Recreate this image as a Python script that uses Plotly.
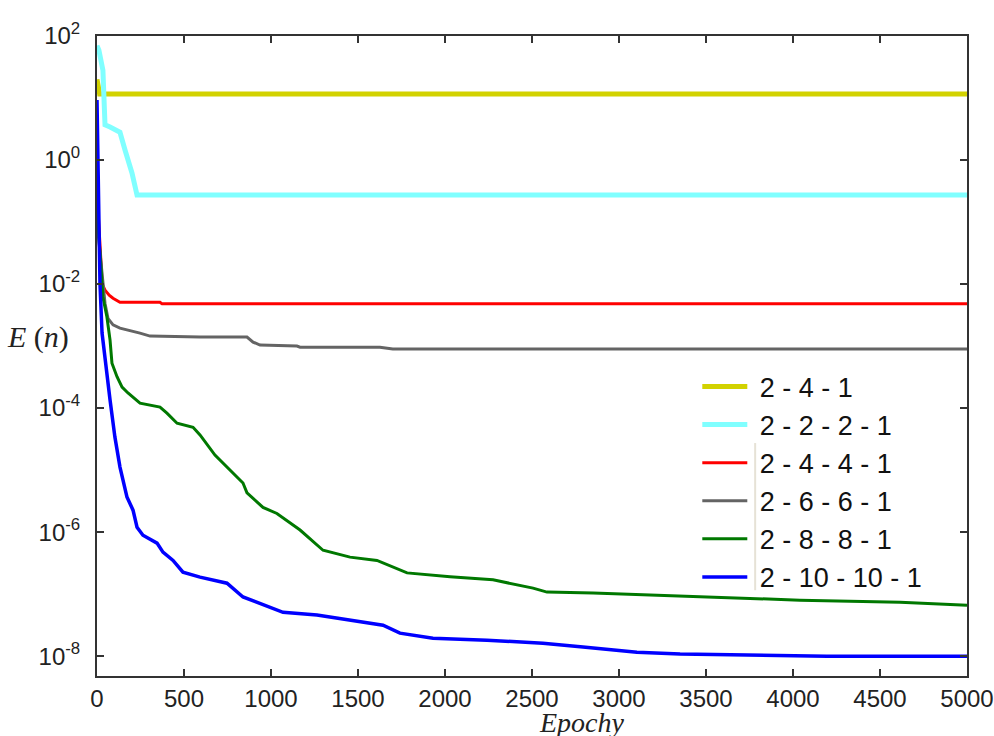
import plotly.graph_objects as go

# ---- data ----
series_names = ["2 - 4 - 1", "2 - 2 - 2 - 1", "2 - 4 - 4 - 1", "2 - 6 - 6 - 1", "2 - 8 - 8 - 1", "2 - 10 - 10 - 1"]

ep_241 = [0, 15, 5000]
err_241 = [20, 11.6, 11.6]

ep_2221 = [0, 11, 34, 46, 75, 132, 161, 201, 230, 5000]
err_2221 = [70, 59, 28, 3.7, 3.4, 2.8, 1.45, 0.62, 0.272, 0.272]

ep_2441 = [0, 30, 46, 70, 92, 132, 362, 374, 5000]
err_2441 = [0.3, 0.01, 0.008, 0.0066, 0.0059, 0.0051, 0.0051, 0.0048, 0.0048]

ep_2661 = [0, 40, 46, 63, 92, 132, 190, 247, 305, 592, 862, 897, 937, 1149, 1167, 1626, 1700, 5000]
err_2661 = [0.1, 0.0063, 0.0049, 0.0028, 0.0022, 0.00195, 0.0018, 0.00162, 0.00145, 0.0014, 0.0014,
            0.00116, 0.00104, 0.001, 0.00096, 0.00096, 0.0009, 0.0009]

ep_2881 = [0, 20, 34, 57, 75, 86, 115, 144, 178, 247, 362, 402, 460, 552, 592, 678, 782, 839, 862, 954,
           1034, 1167, 1299, 1356, 1454, 1609, 1782, 2029, 2276, 2506, 2586, 2851, 3465, 4040, 4615, 5000]
err_2881 = [0.17, 0.02, 6.2e-3, 2.94e-3, 1.25e-3, 5.3e-4, 3.2e-4, 2.18e-4, 1.75e-4, 1.2e-4, 1.04e-4, 8.3e-5,
            5.7e-5, 4.9e-5, 3.7e-5, 1.75e-5, 9.0e-6, 6.2e-6, 4.3e-6, 2.5e-6, 2.0e-6, 1.08e-6, 5.1e-7, 4.6e-7,
            3.95e-7, 3.5e-7, 2.2e-7, 1.9e-7, 1.7e-7, 1.25e-7, 1.08e-7, 1.04e-7, 9.0e-8, 8.0e-8, 7.4e-8, 6.65e-8]

ep_210101 = [0, 17, 29, 46, 75, 103, 132, 172, 207, 230, 264, 345, 379, 437, 494, 592, 747, 839, 1069, 1264,
             1454, 1644, 1741, 1931, 2241, 2563, 2793, 3103, 3351, 4195, 5000]
err_210101 = [9.3, 1.04e-2, 1.62e-3, 5.9e-4, 1.35e-4, 3.4e-5, 1.12e-5, 3.7e-6, 2.26e-6, 1.2e-6, 8.9e-7, 6.65e-7,
              4.75e-7, 3.5e-7, 2.26e-7, 1.88e-7, 1.5e-7, 9.0e-8, 5.1e-8, 4.6e-8, 3.8e-8, 3.16e-8, 2.35e-8,
              1.95e-8, 1.81e-8, 1.62e-8, 1.4e-8, 1.16e-8, 1.08e-8, 1.0e-8, 1.0e-8]

x_ticks = [0, 500, 1000, 1500, 2000, 2500, 3000, 3500, 4000, 4500, 5000]
y_tick_vals = [1e-8, 1e-6, 1e-4, 1e-2, 1e0, 1e2]
y_tick_text = ["10<sup>-8</sup>", "10<sup>-6</sup>", "10<sup>-4</sup>", "10<sup>-2</sup>", "10<sup>0</sup>", "10<sup>2</sup>"]

# ---- styles ----
styles = [
    ("#D2D200", 5),
    ("#80FFFF", 5),
    ("#FF0000", 3),
    ("#646464", 3),
    ("#007800", 3),
    ("#0000FF", 3.5),
]
data = [(ep_241, err_241), (ep_2221, err_2221), (ep_2441, err_2441),
        (ep_2661, err_2661), (ep_2881, err_2881), (ep_210101, err_210101)]

fig = go.Figure()
for name, (xs, ys), (col, w) in zip(series_names, data, styles):
    fig.add_trace(go.Scatter(x=xs, y=ys, mode="lines", name="\u00a0" + name,
                             line=dict(color=col, width=w)))

tick_font = dict(family="Liberation Sans Narrow, Liberation Sans, Arial", size=24, color="#222")

fig.update_layout(
    width=994, height=736,
    margin=dict(l=97, r=27, t=36, b=60, autoexpand=False),
    paper_bgcolor="white", plot_bgcolor="white",
    showlegend=True,
    legend=dict(x=0.69, y=0.49, xanchor="left", yanchor="top",
                bgcolor="rgba(0,0,0,0)", borderwidth=0, itemwidth=45,
                font=dict(family="Liberation Sans Narrow, Liberation Sans, Arial", size=27, color="#111"),
                tracegroupgap=0),
    xaxis=dict(range=[0, 5000], tickvals=x_ticks, ticktext=[str(v) for v in x_ticks],
               showgrid=False, zeroline=False, showline=True, linecolor="#333", linewidth=2,
               mirror="ticks", ticks="inside", ticklen=7, tickwidth=2, tickcolor="#333",
               tickfont=tick_font, ticklabelstandoff=0, automargin=False),
    yaxis=dict(type="log", range=[-8.32, 2], tickvals=y_tick_vals, ticktext=y_tick_text,
               showgrid=False, zeroline=False, showline=True, linecolor="#333", linewidth=2,
               mirror="ticks", ticks="inside", ticklen=7, tickwidth=2, tickcolor="#333",
               tickfont=tick_font, ticklabelstandoff=10, automargin=False),
    annotations=[
        dict(text="<i>E</i> (<i>n</i>)", xref="paper", yref="paper", x=-0.0678, y=0.5297,
             xanchor="center", yanchor="middle",
             showarrow=False, font=dict(family="Liberation Serif, Times New Roman", size=30, color="#222")),
        dict(text="<i>Epochy</i>", xref="paper", yref="paper", x=0.5575, y=-0.0719,
             xanchor="center", yanchor="middle",
             showarrow=False, font=dict(family="Liberation Serif, Times New Roman", size=28, color="#222")),
    ],
    shapes=[
        dict(type="line", xref="paper", yref="paper", x0=0.7565, x1=0.7565, y0=0.134, y1=0.364,
             line=dict(color="#E6E2D6", width=2)),
    ],
)

fig.write_html("out.html")
